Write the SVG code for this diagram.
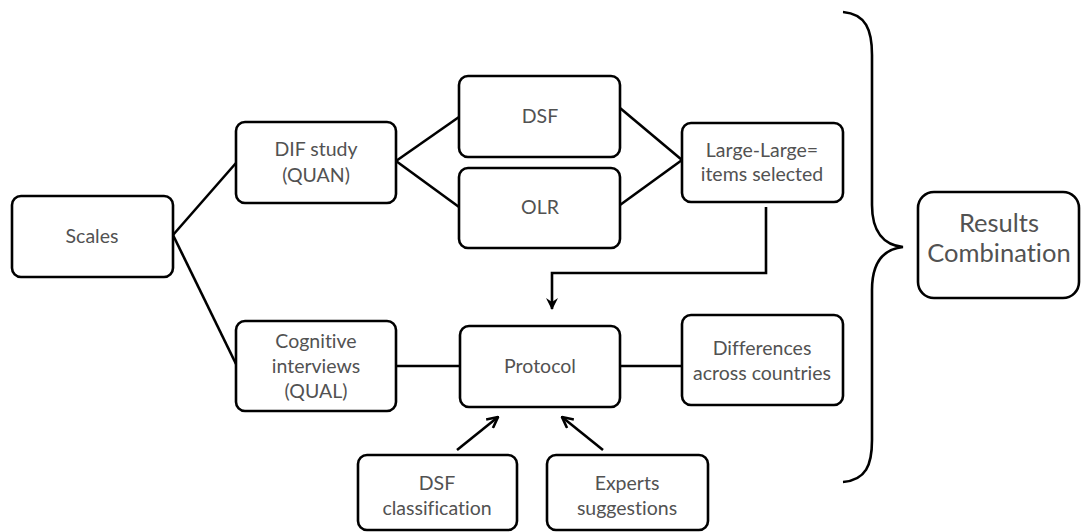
<svg xmlns="http://www.w3.org/2000/svg" width="1083" height="532" viewBox="0 0 1083 532">
  <style>
    .box { fill: #ffffff; stroke: #000000; stroke-width: 2.6; }
    .lbl { font-family: Lato, "Open Sans", sans-serif; font-size: 19.5px; fill: #525252; text-anchor: middle; font-variant-ligatures: none; }
    .big { font-size: 25.5px; }
    .wire { fill: none; stroke: #000000; stroke-width: 2.6; }
  </style>
  <defs>
    <marker id="head" viewBox="0 0 12 12" refX="11" refY="6" markerWidth="13" markerHeight="13" markerUnits="userSpaceOnUse" orient="auto">
      <path d="M1,1 L11,6 L1,11" fill="none" stroke="#000" stroke-width="2.4"/>
    </marker>
    <marker id="headBig" viewBox="0 0 12 12" refX="11" refY="6" markerWidth="12" markerHeight="12" markerUnits="userSpaceOnUse" orient="auto">
      <path d="M0,0 L12,6 L0,12 L4,6 Z" fill="#000"/>
    </marker>
  </defs>

  <!-- connectors -->
  <g id="connectors">
    <path class="wire" d="M173,235 L236,163"/>
    <path class="wire" d="M173,235 L236,364"/>
    <path class="wire" d="M396,161 L459,117"/>
    <path class="wire" d="M396,161 L459,207"/>
    <path class="wire" d="M620,108 L682,160"/>
    <path class="wire" d="M620,205 L682,160"/>
    <path class="wire" d="M766,207 L766,273 L552,273 L552,309" marker-end="url(#headBig)"/>
    <path class="wire" d="M396,366 L460,366"/>
    <path class="wire" d="M620,366 L682,366"/>
    <path class="wire" d="M457,450 L498,417" marker-end="url(#head)"/>
    <path class="wire" d="M603,450 L562,417" marker-end="url(#head)"/>
    <!-- brace gathering all branches -->
    <path class="wire" d="M843,12 C866,14 872,30 872,55 L872,205 C872,232 884,245 903,247 C884,249 872,262 872,290 L872,440 C872,465 866,480 843,482"/>
  </g>

  <g id="scales">
    <rect class="box" x="12" y="196" width="161" height="81" rx="9"/>
    <text class="lbl" x="92" y="243">Scales</text>
  </g>
  <g id="dif-study">
    <rect class="box" x="236" y="122" width="160" height="81" rx="9"/>
    <text class="lbl" x="316" y="156">DIF study</text>
    <text class="lbl" x="316" y="182">(QUAN)</text>
  </g>
  <g id="dsf">
    <rect class="box" x="459" y="76" width="161" height="81" rx="9"/>
    <text class="lbl" x="540" y="123">DSF</text>
  </g>
  <g id="olr">
    <rect class="box" x="459" y="168" width="161" height="80" rx="9"/>
    <text class="lbl" x="540" y="214">OLR</text>
  </g>
  <g id="large-large">
    <rect class="box" x="682" y="123" width="161" height="79" rx="9"/>
    <text class="lbl" x="762" y="157">Large-Large=</text>
    <text class="lbl" x="762" y="181">items selected</text>
  </g>
  <g id="cognitive">
    <rect class="box" x="236" y="321" width="160" height="90" rx="9"/>
    <text class="lbl" x="316" y="348">Cognitive</text>
    <text class="lbl" x="316" y="373">interviews</text>
    <text class="lbl" x="316" y="398">(QUAL)</text>
  </g>
  <g id="protocol">
    <rect class="box" x="460" y="326" width="160" height="81" rx="9"/>
    <text class="lbl" x="540" y="373">Protocol</text>
  </g>
  <g id="differences">
    <rect class="box" x="682" y="315" width="161" height="90" rx="9"/>
    <text class="lbl" x="762" y="355">Differences</text>
    <text class="lbl" x="762" y="380">across countries</text>
  </g>
  <g id="dsf-classification">
    <rect class="box" x="358" y="455" width="159" height="75" rx="9"/>
    <text class="lbl" x="437" y="490">DSF</text>
    <text class="lbl" x="437" y="515">classification</text>
  </g>
  <g id="experts">
    <rect class="box" x="547" y="455" width="161" height="75" rx="9"/>
    <text class="lbl" x="627" y="490">Experts</text>
    <text class="lbl" x="627" y="515">suggestions</text>
  </g>
  <g id="results">
    <rect class="box" x="918" y="192" width="161" height="106" rx="16"/>
    <text class="lbl big" x="999" y="232">Results</text>
    <text class="lbl big" x="999" y="262">Combination</text>
  </g>
</svg>
